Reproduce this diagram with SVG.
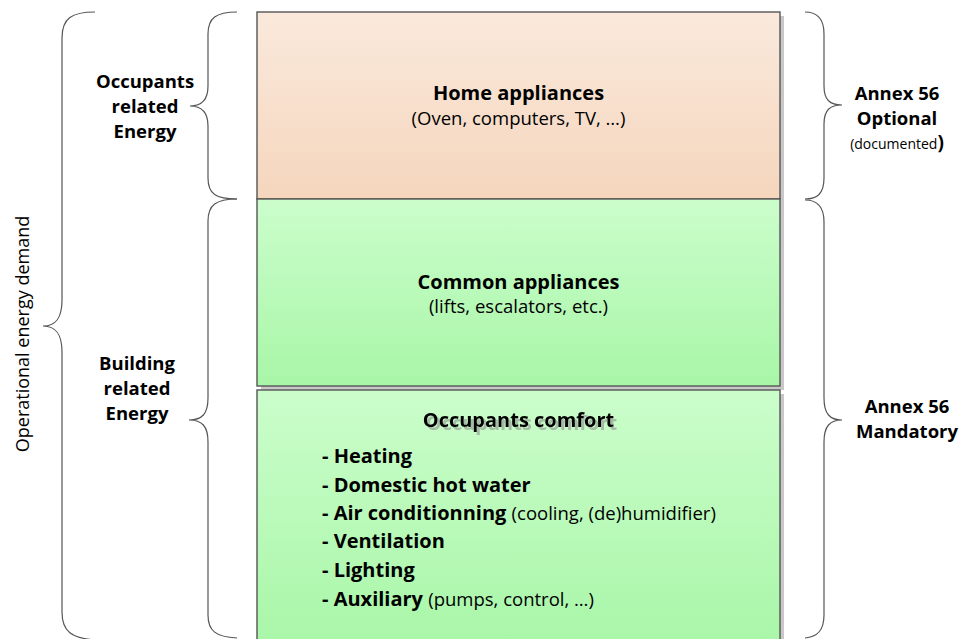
<svg xmlns="http://www.w3.org/2000/svg" width="960" height="639" viewBox="0 0 960 639">
<defs>
<linearGradient id="gPeach" x1="0" y1="0" x2="0" y2="1">
<stop offset="0" stop-color="#FAE9DC"/><stop offset="1" stop-color="#F5D6BD"/>
</linearGradient>
<linearGradient id="gGreen" x1="0" y1="0" x2="0" y2="1">
<stop offset="0" stop-color="#CBFDCB"/><stop offset="1" stop-color="#A8F6A8"/>
</linearGradient>
<filter id="txtShadow" x="-10%" y="-30%" width="120%" height="160%">
<feFlood flood-color="#8f8f8f" flood-opacity="0.6" result="f"/>
<feComposite in="f" in2="SourceAlpha" operator="in" result="s"/>
<feOffset in="s" dx="3" dy="3" result="o"/>
<feMerge><feMergeNode in="o"/><feMergeNode in="SourceGraphic"/></feMerge>
</filter>
<style>
.box{stroke:#555;stroke-width:1.4}
.sh{fill:#c8c8c8}
.brace{fill:none;stroke:#555;stroke-width:1.2}
text{font-family:"Open Sans","Liberation Sans",sans-serif;fill:#000}
.b{font-weight:bold;font-size:18.5px}
.t{font-weight:bold;font-size:20px}
.r{font-size:18.5px}
.li{font-weight:bold;font-size:20px}
.p{font-weight:normal;font-size:18.5px}
.c{text-anchor:middle}
</style>
</defs>

<g id="connectors">
<path class="brace" d="M95 12 C72 12 62 18 62 38 L62 300 C62 318 56 326 43 326 C56 326 62 334 62 352 L62 612 C62 632 72 638 95 640"/>
<path class="brace" d="M237 12 C216 12 208 18 208 34 L208 86 C208 100 202 106 190 106 C202 106 208 112 208 126 L208 178 C208 194 216 199 237 199"/>
<path class="brace" d="M237 199 C216 199 208 205 208 221 L208 398 C208 414 202 420 189 420 C202 420 208 426 208 442 L208 615 C208 631 216 637 237 638"/>
<path class="brace" d="M805 12 C817 12 824 18 824 34 L824 86 C824 100 830 105 842 105 C830 105 824 110 824 124 L824 178 C824 194 817 199 805 199"/>
<path class="brace" d="M805 200 C817 200 824 206 824 222 L824 398 C824 414 830 420 842 420 C830 420 824 426 824 442 L824 615 C824 631 817 637 805 638"/>
</g>

<g id="operational">
<text class="c" transform="translate(29 334) rotate(-90)" style="font-size:18px">Operational energy demand</text>
</g>

<g id="occupants-related">
<text class="b c" x="145" y="88">Occupants</text>
<text class="b c" x="145" y="113">related</text>
<text class="b c" x="145" y="138">Energy</text>
</g>

<g id="building-related">
<text class="b c" x="137" y="370">Building</text>
<text class="b c" x="137" y="395">related</text>
<text class="b c" x="137" y="420">Energy</text>
</g>

<g id="home-appliances">
<rect class="sh" x="261" y="16" width="523" height="187"/>
<rect class="box" x="257" y="12" width="523" height="187" fill="url(#gPeach)"/>
<text class="t c" x="518.5" y="100">Home appliances</text>
<text class="r c" x="518.5" y="125">(Oven, computers, TV, …)</text>
</g>

<g id="common-appliances">
<rect class="sh" x="261" y="203" width="523" height="187"/>
<rect class="box" x="257" y="199" width="523" height="187" fill="url(#gGreen)"/>
<text class="t c" x="518.5" y="289">Common appliances</text>
<text class="r c" x="518.5" y="313">(lifts, escalators, etc.)</text>
</g>

<g id="occupants-comfort">
<rect class="sh" x="261" y="394" width="523" height="260"/>
<rect class="box" x="257" y="390" width="523" height="260" fill="url(#gGreen)"/>
<text class="t c" x="518.5" y="427" filter="url(#txtShadow)">Occupants comfort</text>
<text class="li" x="322" y="463">- Heating</text>
<text class="li" x="322" y="492">- Domestic hot water</text>
<text class="li" x="322" y="520">- Air conditionning <tspan class="p">(cooling, (de)humidifier)</tspan></text>
<text class="li" x="322" y="548">- Ventilation</text>
<text class="li" x="322" y="577">- Lighting</text>
<text class="li" x="322" y="606">- Auxiliary <tspan class="p">(pumps, control, …)</tspan></text>
</g>

<g id="annex-optional">
<text class="b c" x="897" y="100">Annex 56</text>
<text class="b c" x="897" y="125">Optional</text>
<text class="c" x="897" y="149" style="font-size:14px">(documented<tspan style="font-weight:bold;font-size:19px">)</tspan></text>
</g>

<g id="annex-mandatory">
<text class="b c" x="907" y="413">Annex 56</text>
<text class="b c" x="907" y="438">Mandatory</text>
</g>
</svg>
